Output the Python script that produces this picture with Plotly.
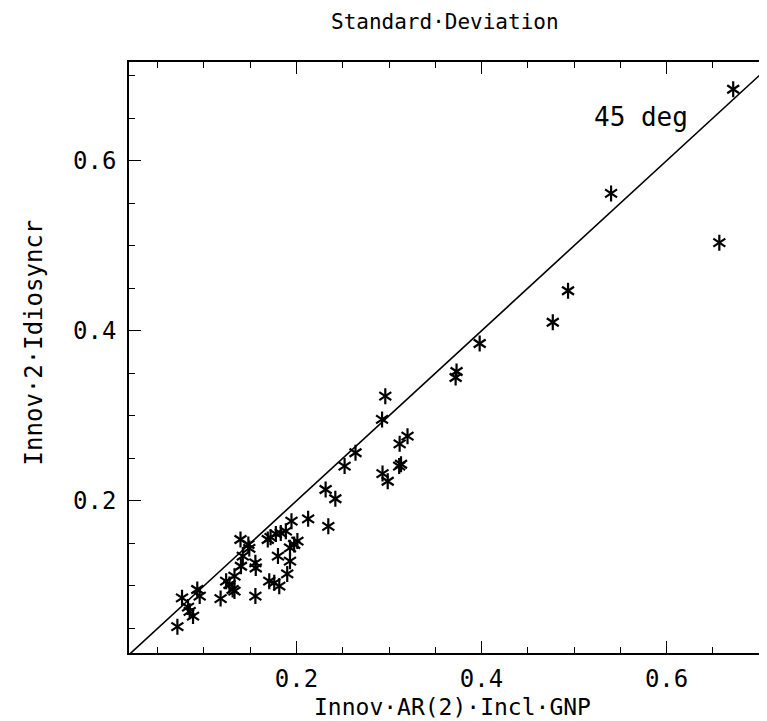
import plotly.graph_objects as go

# Data
x_vals = [0.0713, 0.0763, 0.0828, 0.0846, 0.0882, 0.0928, 0.0954, 0.118, 0.124, 0.1276,
          0.131, 0.133, 0.133, 0.1395, 0.142, 0.140, 0.148, 0.149, 0.1556, 0.156,
          0.1556, 0.169, 0.172, 0.1777, 0.183, 0.1885, 0.1946, 0.180, 0.193, 0.201,
          0.1975, 0.193, 0.190, 0.1706, 0.176, 0.1814, 0.2126, 0.2344, 0.2315, 0.242,
          0.252, 0.2638, 0.296, 0.2925, 0.320, 0.3115, 0.311, 0.313, 0.293, 0.2986,
          0.372, 0.373, 0.398, 0.477, 0.4935, 0.540, 0.657, 0.672]
y_vals = [0.052, 0.0859, 0.075, 0.070, 0.0644, 0.0957, 0.0879, 0.085, 0.1055, 0.1016,
          0.0957, 0.1114, 0.0938, 0.1545, 0.135, 0.123, 0.1486, 0.144, 0.127, 0.121,
          0.0879, 0.1545, 0.157, 0.161, 0.162, 0.1643, 0.176, 0.135, 0.1447, 0.1526,
          0.1486, 0.129, 0.114, 0.1055, 0.1035, 0.0996, 0.1788, 0.170, 0.2133, 0.2024,
          0.2408, 0.2565, 0.323, 0.2957, 0.276, 0.267, 0.2408, 0.243, 0.232, 0.223,
          0.345, 0.352, 0.385, 0.410, 0.447, 0.5615, 0.5035, 0.684]

diag = [0.0, 0.8]
x_range = [0.019, 0.715]
y_range = [0.021, 0.716]
tick_vals = [0.2, 0.4, 0.6]
tick_text = ["0.2", "0.4", "0.6"]

title_text = "Standard·Deviation"
x_title = "Innov·AR(2)·Incl·GNP"
y_title = "Innov·2·Idiosyncr"
line_label = "45 deg"

FONT = "DejaVu Sans Mono"

fig = go.Figure()
fig.add_trace(go.Scatter(x=diag, y=diag, mode="lines",
                         line=dict(color="black", width=1.6), showlegend=False,
                         hoverinfo="skip"))
for sym in ["y-up-open", "y-down-open"]:
    fig.add_trace(go.Scatter(x=x_vals, y=y_vals, mode="markers",
                             marker=dict(symbol=sym, size=10, color="black",
                                         line=dict(color="black", width=2.2)),
                             showlegend=False))

axis_common = dict(
    showline=True, linecolor="black", linewidth=1.5, mirror="ticks",
    ticks="inside", ticklen=12, tickwidth=1.2, tickcolor="black",
    tickvals=tick_vals, ticktext=tick_text,
    showgrid=False, zeroline=False,
    tickfont=dict(family=FONT, size=24, color="black"),
    minor=dict(ticks="inside", dtick=0.05, tick0=0, ticklen=6, tickwidth=1,
               tickcolor="black", showgrid=False),
)

fig.update_xaxes(range=x_range, ticklabelstandoff=3, **axis_common)
fig.update_yaxes(range=y_range, ticklabelstandoff=6, **axis_common)

fig.update_layout(
    width=767, height=721,
    margin=dict(l=121, r=0, t=54, b=76),
    plot_bgcolor="white", paper_bgcolor="white",
    font=dict(family=FONT, color="black"),
    annotations=[
        dict(text=title_text, xref="paper", yref="paper", x=0.49, y=1.068,
             xanchor="center", yanchor="middle", showarrow=False,
             font=dict(family=FONT, size=21, color="black")),
        dict(text=x_title, xref="paper", yref="paper", x=0.502, y=-0.092,
             xanchor="center", yanchor="middle", showarrow=False,
             font=dict(family=FONT, size=23, color="black")),
        dict(text=y_title, xref="paper", yref="paper", x=-0.148, y=0.525,
             xanchor="center", yanchor="middle", showarrow=False, textangle=-90,
             font=dict(family=FONT, size=24, color="black")),
        dict(text=line_label, xref="x", yref="y", x=0.572, y=0.651,
             xanchor="center", yanchor="middle", showarrow=False,
             font=dict(family=FONT, size=26, color="black")),
    ],
)

fig.write_html("out.html")
